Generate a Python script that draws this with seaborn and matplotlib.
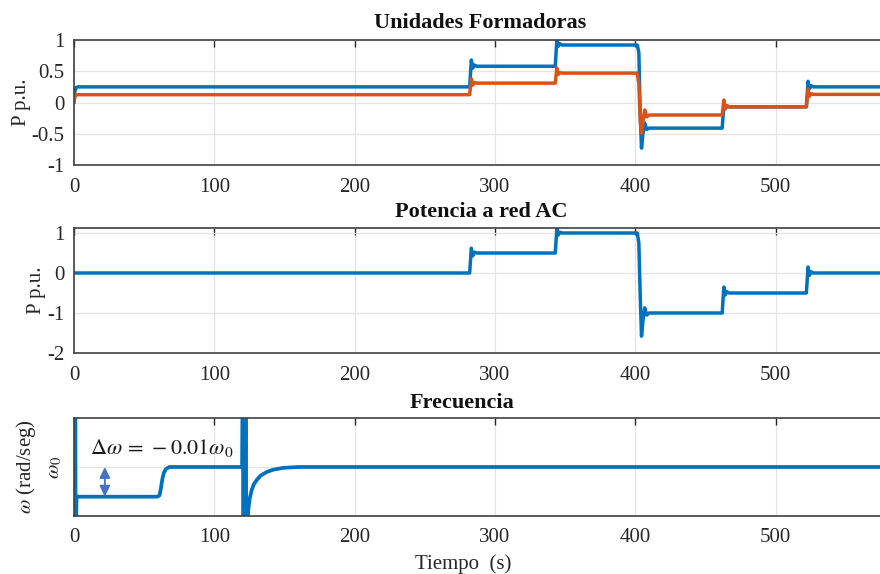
import numpy as np
import pandas as pd
import seaborn as sns
import matplotlib
matplotlib.use("Agg")
import matplotlib.pyplot as plt

# --- Unidades formadoras: potencia activa de cada unidad (p.u.) ---
t_form = [0, 0.6, 1.5, 3, 282, 283.2, 284.2, 285.4, 287, 343, 344.2, 345.2, 346.4, 348,
          401.5, 402.6, 403.6, 404.5, 405.5, 406.8, 408.2, 410, 462, 463.2, 464.2, 465.4, 467,
          522, 523.2, 524.2, 525.4, 527, 580]
p_unidad1 = [0.0, 0.18, 0.24, 0.25, 0.25, 0.68, 0.55, 0.60, 0.58, 0.58, 1.01, 0.90, 0.94, 0.92,
             0.92, 0.80, -0.20, -0.73, -0.50, -0.33, -0.43, -0.41, -0.41, -0.04, -0.10, -0.06, -0.07,
             -0.07, 0.34, 0.22, 0.27, 0.25, 0.25]
p_unidad2 = [0.0, 0.09, 0.12, 0.125, 0.125, 0.38, 0.28, 0.32, 0.31, 0.31, 0.55, 0.45, 0.48, 0.47,
             0.47, 0.30, -0.30, -0.49, -0.30, -0.12, -0.23, -0.20, -0.20, 0.04, -0.10, -0.05, -0.07,
             -0.07, 0.21, 0.10, 0.14, 0.13, 0.13]

# --- Potencia entregada a la red AC (p.u.) ---
t_red = [0, 282, 283.2, 284.2, 285.4, 287, 343, 344.2, 345.2, 346.4, 348,
         401.5, 402.6, 403.6, 404.5, 405.5, 406.8, 408.2, 410, 462, 463.2, 464.2, 465.4, 467,
         522, 523.2, 524.2, 525.4, 527, 580]
p_red = [0, 0, 0.62, 0.43, 0.52, 0.50, 0.50, 1.13, 0.95, 1.02, 1.0,
         1.0, 0.75, -0.60, -1.58, -1.20, -0.87, -1.05, -1.0, -1.0, -0.35, -0.55, -0.47, -0.50,
         -0.50, 0.15, -0.06, 0.03, 0.0, 0.0]

# --- Frecuencia (p.u. de omega_0) ---
t_frec = [0, 0.3, 0.6, 0.9, 1.2, 1.8, 59.5, 61, 62, 63, 64, 65.5, 68,
          119.8, 120.3, 120.8, 121.3, 121.8, 122.3, 122.8, 123.3, 124.2, 125.3, 126.6, 128.2,
          130.2, 133, 137.3, 142, 149, 160, 580]
w_frec = [1.0, 1.04, 0.96, 1.03, 0.97, 0.99, 0.99, 0.9905, 0.993, 0.996, 0.998, 0.9993, 1.0,
          1.0, 1.04, 0.96, 1.035, 0.965, 1.03, 0.97, 0.975, 0.9856, 0.9895, 0.9922, 0.9942,
          0.9956, 0.9971, 0.9983, 0.9991, 0.9997, 1.0, 1.0]

titulos = ["Unidades Formadoras", "Potencia a red AC", "Frecuencia"]
xticks = [0, 100, 200, 300, 400, 500]

azul = "#0072BD"
naranja = "#D95319"

sns.set_theme(style="white")
plt.rcParams["font.family"] = ["Liberation Serif", "DejaVu Serif"]
plt.rcParams["mathtext.fontset"] = "stix"
plt.rcParams["axes.unicode_minus"] = False
plt.rcParams["axes.edgecolor"] = "#262626"
plt.rcParams["xtick.color"] = "#262626"
plt.rcParams["ytick.color"] = "#262626"

W, H = 880, 574
fig = plt.figure(figsize=(W / 100, H / 100), dpi=100)

x0 = 74
px_per_s = 1.403
ax_w = 600 * px_per_s


def make_ax(top, bottom):
    return fig.add_axes([x0 / W, 1 - bottom / H, ax_w / W, (bottom - top) / H])


ax1 = make_ax(40, 165)
ax2 = make_ax(228, 353)
ax3 = make_ax(418, 516)

df1 = pd.DataFrame({"t": t_form, "u1": p_unidad1, "u2": p_unidad2})
sns.lineplot(data=df1, x="t", y="u1", ax=ax1, color=azul, lw=2.5, estimator=None, sort=False)
sns.lineplot(data=df1, x="t", y="u2", ax=ax1, color=naranja, lw=2.5, estimator=None, sort=False)
ax1.set_ylim(-1, 1)
ax1.set_yticks([-1, -0.5, 0, 0.5, 1])
ax1.set_yticklabels(["-1", "-0.5", "0", "0.5", "1"])
ax1.set_ylabel("P p.u.", fontsize=15, labelpad=0)

df2 = pd.DataFrame({"t": t_red, "p": p_red})
sns.lineplot(data=df2, x="t", y="p", ax=ax2, color=azul, lw=2.5, estimator=None, sort=False)
ax2.set_ylim(-2, 1.125)
ax2.set_yticks([-2, -1, 0, 1])
ax2.set_yticklabels(["-2", "-1", "0", "1"])
ax2.set_ylabel("P p.u.", fontsize=15, labelpad=1)

df3 = pd.DataFrame({"t": t_frec, "w": w_frec})
sns.lineplot(data=df3, x="t", y="w", ax=ax3, color=azul, lw=2.7, estimator=None, sort=False)
ax3.set_ylim(1 - 0.0165, 1 + 0.0165)
ax3.set_yticks([1.0])
ax3.set_yticklabels([r"$\omega_0$"], rotation=90, va="center")
ax3.set_ylabel(r"$\omega$ (rad/seg)", fontsize=15, labelpad=5)
ax3.set_xlabel("Tiempo  (s)", fontsize=15)
ax3.xaxis.set_label_coords(0.462, -0.39)

ax3.annotate("", xy=(22, 1.0), xytext=(22, 0.99),
             arrowprops=dict(arrowstyle="<|-|>,head_length=0.45,head_width=0.22",
                             color="#4472C4", lw=1.4, mutation_scale=14,
                             shrinkA=0, shrinkB=0))
ax3.text(11.5, 1.0063, r"$\Delta\omega\,=\,-0.01\omega_0$", fontsize=16, va="center",
         ha="left", color="#1a1a1a")

for ax in (ax1, ax2, ax3):
    ax.set_xlim(0, 600)
    ax.set_xticks(xticks)
    ax.set_xticklabels([str(v) for v in xticks])
    ax.set_xticks([600], minor=True)
    if ax is not ax3:
        ax.set_xlabel("")
    ax.grid(True, color="#e3e3e3", lw=0.9)
    ax.tick_params(direction="in", length=5, width=1.0, labelsize=15, top=True, right=True)
    ax.tick_params(axis="x", pad=9)
    ax.tick_params(axis="y", pad=7)
    for s in ax.spines.values():
        s.set_linewidth(1.2)
        s.set_color("#404040")

title_y = [23, 212, 403]
title_x = [480, 481, 462]
for tx, ty, txt in zip(title_x, title_y, titulos):
    fig.text(tx / W, 1 - ty / H, txt, fontsize=16, fontweight="bold", ha="center",
             va="center", color="#111111")

fig.savefig("out.png", dpi=100)
